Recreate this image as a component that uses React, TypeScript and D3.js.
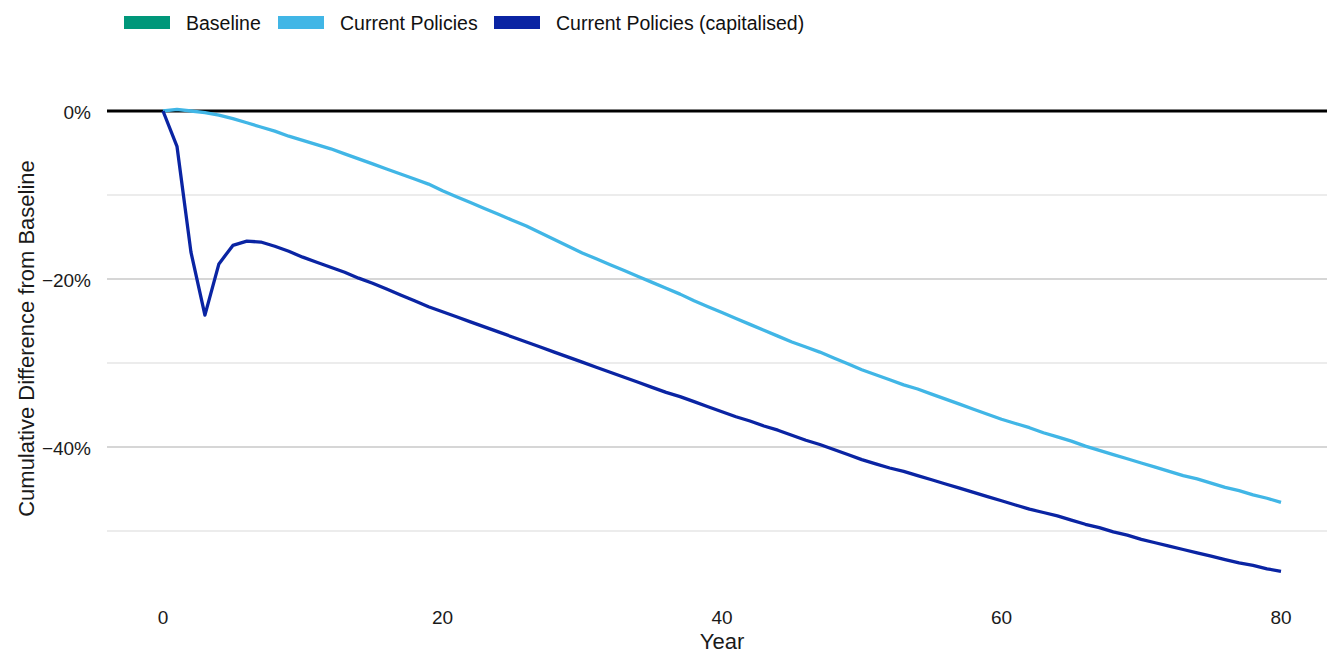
import React from "react";
import * as d3 from "d3";

const years: number[] = Array.from({ length: 81 }, (_, i) => i);

const currentPolicies: number[] = [
  0, 0.2, 0.0, -0.2, -0.5, -0.9, -1.4, -1.9, -2.4, -3.0,
  -3.5, -4.0, -4.5, -5.1, -5.7, -6.3, -6.9, -7.5, -8.1, -8.7,
  -9.5, -10.2, -10.9, -11.6, -12.3, -13.0, -13.7, -14.5, -15.3, -16.1,
  -16.9, -17.6, -18.3, -19.0, -19.7, -20.4, -21.1, -21.8, -22.6, -23.3,
  -24.0, -24.7, -25.4, -26.1, -26.8, -27.5, -28.1, -28.7, -29.4, -30.1,
  -30.8, -31.4, -32.0, -32.6, -33.1, -33.7, -34.3, -34.9, -35.5, -36.1,
  -36.7, -37.2, -37.7, -38.3, -38.8, -39.3, -39.9, -40.4, -40.9, -41.4,
  -41.9, -42.4, -42.9, -43.4, -43.8, -44.3, -44.8, -45.2, -45.7, -46.1,
  -46.6,
];

const currentPoliciesCap: number[] = [
  0, -4.2, -16.8, -24.3, -18.2, -16.0, -15.5, -15.6, -16.1, -16.7,
  -17.4, -18.0, -18.6, -19.2, -19.9, -20.5, -21.2, -21.9, -22.6, -23.3,
  -23.9, -24.5, -25.1, -25.7, -26.3, -26.9, -27.5, -28.1, -28.7, -29.3,
  -29.9, -30.5, -31.1, -31.7, -32.3, -32.9, -33.5, -34.0, -34.6, -35.2,
  -35.8, -36.4, -36.9, -37.5, -38.0, -38.6, -39.2, -39.7, -40.3, -40.9,
  -41.5, -42.0, -42.5, -42.9, -43.4, -43.9, -44.4, -44.9, -45.4, -45.9,
  -46.4, -46.9, -47.4, -47.8, -48.2, -48.7, -49.2, -49.6, -50.1, -50.5,
  -51.0, -51.4, -51.8, -52.2, -52.6, -53.0, -53.4, -53.8, -54.1, -54.5,
  -54.8,
];

const xTicks: number[] = [0, 20, 40, 60, 80];
const yMajorTicks: number[] = [0, -20, -40];
const yMinorTicks: number[] = [-10, -30, -50];

const legendItems = [
  { label: "Baseline", color: "#00977a" },
  { label: "Current Policies", color: "#41b6e6" },
  { label: "Current Policies (capitalised)", color: "#0a24a3" },
];

const FONT = "'Liberation Sans', Arial, sans-serif";

export default function App() {
  const W = 1327;
  const H = 656;
  const plotLeft = 107;
  const plotRight = 1327;

  const x = d3.scaleLinear().domain([0, 80]).range([163, 1281]);
  const y = d3.scaleLinear().domain([6, -56]).range([60.6, 581.4]);

  const line = d3
    .line<number>()
    .x((_, i) => x(years[i]))
    .y((d) => y(d));

  const legendX = [124, 278, 494];

  return (
    <svg
      width={W}
      height={H}
      style={{ position: "absolute", left: 0, top: 0, background: "#fff" }}
      fontFamily={FONT}
    >
      {/* legend */}
      {legendItems.map((it, i) => (
        <g key={it.label} transform={`translate(${legendX[i]},0)`}>
          <rect x={0} y={16} width={46} height={13} fill={it.color} />
          <text x={62} y={23} dominantBaseline="central" fontSize={19.5} fill="#111">
            {it.label}
          </text>
        </g>
      ))}

      {/* minor gridlines */}
      {yMinorTicks.map((t) => (
        <line key={t} x1={plotLeft} x2={plotRight} y1={y(t)} y2={y(t)} stroke="#d9d9d9" strokeWidth={1} />
      ))}
      {/* major gridlines */}
      {yMajorTicks.filter((t) => t !== 0).map((t) => (
        <line key={t} x1={plotLeft} x2={plotRight} y1={y(t)} y2={y(t)} stroke="#d6d6d6" strokeWidth={2} />
      ))}

      {/* y tick labels */}
      {yMajorTicks.map((t) => (
        <text key={t} x={91} y={y(t) + 1} textAnchor="end" dominantBaseline="central" fontSize={19} fill="#1a1a1a">
          {d3.format(".0f")(t) + "%"}
        </text>
      ))}

      {/* x tick labels */}
      {xTicks.map((t) => (
        <text key={t} x={x(t)} y={617} textAnchor="middle" dominantBaseline="central" fontSize={19} fill="#1a1a1a">
          {t}
        </text>
      ))}

      {/* axis titles */}
      <text x={722} y={649} textAnchor="middle" fontSize={22} fill="#1a1a1a">
        Year
      </text>
      <text
        transform={`translate(26,${(155 + 522) / 2}) rotate(-90)`}
        textAnchor="middle"
        dominantBaseline="central"
        fontSize={22}
        fill="#1a1a1a"
      >
        Cumulative Difference from Baseline
      </text>

      {/* zero line */}
      <line x1={plotLeft} x2={plotRight} y1={y(0)} y2={y(0)} stroke="#000" strokeWidth={3} />

      {/* series */}
      <path d={line(currentPolicies) || ""} fill="none" stroke="#41b6e6" strokeWidth={3.3} strokeLinejoin="round" />
      <path d={line(currentPoliciesCap) || ""} fill="none" stroke="#0a24a3" strokeWidth={3.3} strokeLinejoin="round" />
    </svg>
  );
}
